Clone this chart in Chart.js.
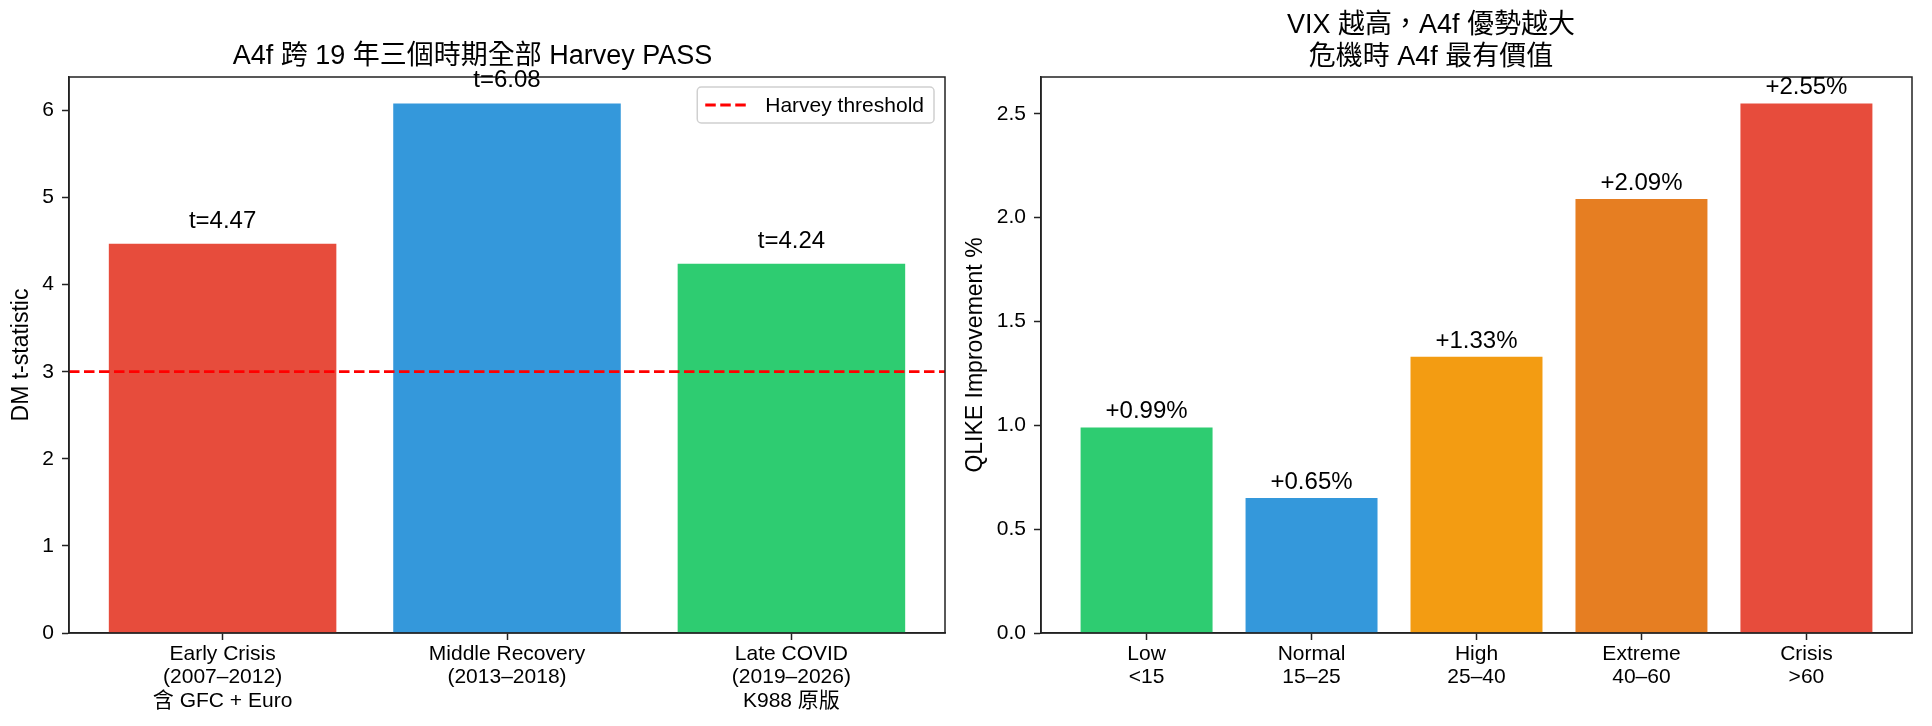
<!DOCTYPE html>
<html>
<head>
<meta charset="utf-8">
<script src="https://cdn.jsdelivr.net/npm/chart.js@4.4.1/dist/chart.umd.min.js"></script>
<style>
  body { margin: 0; background: #fff; }
  canvas { position: absolute; top: 0; }
  #periodChart { left: 0; }
  #vixChart { left: 950px; }
</style>
</head>
<body>
<canvas id="periodChart" width="950" height="726"></canvas>
<canvas id="vixChart" width="982" height="726"></canvas>
<script>
// Left panel: DM t-statistic per period
const periodLabels = [
    ['Early Crisis', '(2007–2012)', '含 GFC + Euro'],
    ['Middle Recovery', '(2013–2018)'],
    ['Late COVID', '(2019–2026)', 'K988 原版']
];
const periodT = [4.47, 6.08, 4.24];
const periodColors = ['#e74c3c', '#3498db', '#2ecc71'];
const periodYTicks = [0, 1, 2, 3, 4, 5, 6];
const harveyThreshold = 3;

// Right panel: QLIKE improvement per VIX regime
const vixLabels = [
    ['Low', '<15'],
    ['Normal', '15–25'],
    ['High', '25–40'],
    ['Extreme', '40–60'],
    ['Crisis', '>60']
];
const vixGain = [0.99, 0.65, 1.33, 2.09, 2.55];
const vixColors = ['#2ecc71', '#3498db', '#f39c12', '#e67e22', '#e74c3c'];
const vixYTicks = [0, 0.5, 1.0, 1.5, 2.0, 2.5];

const FONT = '"Liberation Sans", "Noto Sans CJK TC", sans-serif';
const AXIS = '#222';
Chart.defaults.font.family = FONT;
Chart.defaults.color = '#000';

// Cadre complet autour de la zone du graphique
const framePlugin = {
    id: 'frame',
    afterDatasetsDraw(chart) {
        const a = chart.chartArea, ctx = chart.ctx;
        ctx.save();
        ctx.strokeStyle = AXIS;
        ctx.lineWidth = 1.5;
        ctx.strokeRect(a.left, a.top, a.right - a.left, a.bottom - a.top);
        ctx.restore();
    }
};

// Texte au-dessus de chaque barre
const barLabelPlugin = {
    id: 'barLabels',
    afterDraw(chart, args, opts) {
        const meta = chart.getDatasetMeta(0);
        const values = chart.data.datasets[0].data;
        const ctx = chart.ctx;
        ctx.save();
        ctx.font = `${opts.size}px ${FONT}`;
        ctx.fillStyle = '#000';
        ctx.textAlign = 'center';
        ctx.textBaseline = 'alphabetic';
        meta.data.forEach((bar, i) => {
            ctx.fillText(opts.format(values[i].y), bar.x, bar.y - opts.offset);
        });
        ctx.restore();
    }
};

// Legende "Harvey threshold" dans le coin haut droit
const thresholdLegend = {
    id: 'thresholdLegend',
    afterDraw(chart, args, opts) {
        if (!opts.text) return;
        const a = chart.chartArea, ctx = chart.ctx;
        ctx.save();
        ctx.font = `21px ${FONT}`;
        const tw = ctx.measureText(opts.text).width;
        const w = 8 + 43 + 17 + tw + 10, h = 36;
        const x = a.right - 11 - w, y = a.top + 10;
        ctx.beginPath();
        ctx.roundRect(x, y, w, h, 4);
        ctx.fillStyle = 'rgba(255,255,255,0.8)';
        ctx.fill();
        ctx.strokeStyle = '#d0d0d0';
        ctx.lineWidth = 1.5;
        ctx.stroke();
        ctx.beginPath();
        ctx.setLineDash([10.5, 4.5]);
        ctx.strokeStyle = '#ff0000';
        ctx.lineWidth = 2.8;
        ctx.moveTo(x + 8, y + h / 2);
        ctx.lineTo(x + 51, y + h / 2);
        ctx.stroke();
        ctx.setLineDash([]);
        ctx.fillStyle = '#000';
        ctx.textBaseline = 'middle';
        ctx.fillText(opts.text, x + 68, y + h / 2 + 1);
        ctx.restore();
    }
};

function axisStyle() {
    return {
        grid: { display: true, drawOnChartArea: false, drawTicks: true, tickLength: 7, tickWidth: 1.5, tickColor: AXIS, offset: false },
        border: { display: true, color: AXIS, width: 1.5 }
    };
}

function renderBarChart(canvasId, cfg) {
    const n = cfg.values.length;
    const pad = 0.05 * (n - 1 + 0.8);
    const xmin = -0.4 - pad, xmax = n - 1 + 0.4 + pad;
    const ymax = Math.max(...cfg.values) * 1.05;

    const datasets = [{
        type: 'bar',
        data: cfg.values.map((v, i) => ({ x: i, y: v })),
        backgroundColor: cfg.colors,
        borderWidth: 0,
        barPercentage: 0.8,
        categoryPercentage: 1.0,
        order: 1
    }];
    if (cfg.threshold !== undefined) {
        datasets.push({
            type: 'line',
            data: [{ x: xmin, y: cfg.threshold }, { x: xmax, y: cfg.threshold }],
            borderColor: '#ff0000',
            borderWidth: 2.8,
            borderDash: [10.5, 4.5],
            pointRadius: 0,
            fill: false,
            order: 0
        });
    }

    return new Chart(document.getElementById(canvasId), {
        type: 'bar',
        data: { datasets: datasets },
        plugins: [framePlugin, barLabelPlugin, thresholdLegend],
        options: {
            responsive: false,
            animation: false,
            layout: { padding: { left: 0, right: cfg.rightPad, top: 0, bottom: 0 } },
            plugins: {
                legend: { display: false },
                tooltip: { enabled: false },
                title: {
                    display: true,
                    text: cfg.title,
                    color: '#000',
                    font: { size: 27, weight: 'normal', lineHeight: 32 / 27 },
                    padding: cfg.titlePad
                },
                barLabels: { format: cfg.format, offset: cfg.labelOffset, size: 24 },
                thresholdLegend: { text: cfg.legendText }
            },
            scales: {
                x: {
                    type: 'linear',
                    min: xmin,
                    max: xmax,
                    offset: false,
                    ...axisStyle(),
                    afterBuildTicks: (s) => { s.ticks = cfg.labels.map((_, i) => ({ value: i })); },
                    afterFit: (s) => { s.height = 93; },
                    ticks: {
                        autoSkip: false,
                        maxRotation: 0,
                        padding: 3,
                        color: '#000',
                        font: { size: 21, lineHeight: 1.1 },
                        callback: (v, i) => cfg.labels[i]
                    }
                },
                y: {
                    type: 'linear',
                    min: 0,
                    max: ymax,
                    ...axisStyle(),
                    afterBuildTicks: (s) => { s.ticks = cfg.yTicks.map(v => ({ value: v })); },
                    afterFit: (s) => { s.width = cfg.yWidth; },
                    ticks: {
                        padding: 8,
                        color: '#000',
                        font: { size: 21 },
                        callback: cfg.yFormat
                    },
                    title: {
                        display: true,
                        text: cfg.yTitle,
                        color: '#000',
                        font: { size: 23 },
                        padding: { top: cfg.yTitlePad, bottom: 0 }
                    }
                }
            }
        }
    });
}

renderBarChart('periodChart', {
    labels: periodLabels,
    values: periodT,
    colors: periodColors,
    yTicks: periodYTicks,
    threshold: harveyThreshold,
    legendText: 'Harvey threshold',
    title: 'A4f 跨 19 年三個時期全部 Harvey PASS',
    titlePad: { top: 41, bottom: 4 },
    yTitle: 'DM t-statistic',
    yTitlePad: 8,
    yWidth: 69,
    rightPad: 5,
    yFormat: (v) => String(v),
    format: (v) => 't=' + v.toFixed(2),
    labelOffset: 16
});

renderBarChart('vixChart', {
    labels: vixLabels,
    values: vixGain,
    colors: vixColors,
    yTicks: vixYTicks,
    title: ['VIX 越高，A4f 優勢越大', '危機時 A4f 最有價值'],
    titlePad: { top: 10, bottom: 3 },
    yTitle: 'QLIKE Improvement %',
    yTitlePad: 12,
    yWidth: 91,
    rightPad: 20,
    yFormat: (v) => v.toFixed(1),
    format: (v) => '+' + v.toFixed(2) + '%',
    labelOffset: 9
});
</script>
</body>
</html>
